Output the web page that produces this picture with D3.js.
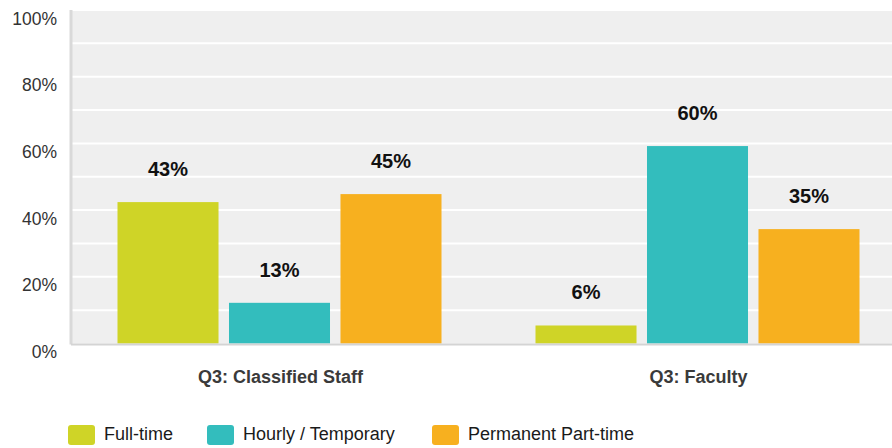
<!DOCTYPE html>
<html>
<head>
<meta charset="utf-8">
<script src="https://cdn.jsdelivr.net/npm/d3@7"></script>
<style>
body { margin: 0; background: #fff; }
svg { font-family: "Liberation Sans", Arial, sans-serif; }
</style>
</head>
<body>
<svg width="892" height="448"></svg>
<script>
const groups = ["Q3: Classified Staff", "Q3: Faculty"]
const series = ["Full-time", "Hourly / Temporary", "Permanent Part-time"]
// bar heights as drawn, and the rounded labels printed above them
const fullTime = [42.4, 5.4]
const hourly = [12.2, 59.2]
const permanent = [44.8, 34.3]
const fullTimeLabels = ["43%", "6%"]
const hourlyLabels = ["13%", "60%"]
const permanentLabels = ["45%", "35%"]
const colors = ["#cfd427", "#33bdbd", "#f7b01f"]
const yTicks = [0, 20, 40, 60, 80, 100]

const svg = d3.select("svg")
const plotLeft = 71, plotRight = 892, plotTop = 10, plotBottom = 343.5

const y = d3.scaleLinear().domain([0, 100]).range([plotBottom, plotTop])
const x0 = d3.scaleBand().domain(groups).range([70.5, 906.5])
const x1 = d3.scaleBand().domain(series).range([-162, 162]).paddingInner(0.094)

// plot background
svg.append("rect").attr("x", plotLeft).attr("y", plotTop)
  .attr("width", plotRight - plotLeft).attr("height", plotBottom - plotTop)
  .attr("fill", "#efefef")

// grid lines every 10%
svg.append("g").selectAll("line").data(d3.range(10, 101, 10)).join("line")
  .attr("x1", plotLeft).attr("x2", plotRight)
  .attr("y1", d => y(d)).attr("y2", d => y(d))
  .attr("stroke", "#fff").attr("stroke-width", 2)

// y axis labels
svg.append("g").selectAll("text").data(yTicks).join("text")
  .attr("x", 57).attr("y", d => y(d) + 14.5)
  .attr("text-anchor", "end")
  .attr("font-size", 17.5).attr("fill", "#333")
  .text(d => d + "%")

const rows = groups.map((g, i) => ({
  group: g,
  values: [fullTime[i], hourly[i], permanent[i]],
  labels: [fullTimeLabels[i], hourlyLabels[i], permanentLabels[i]]
}))

const gg = svg.append("g").selectAll("g").data(rows).join("g")
  .attr("transform", d => "translate(" + (x0(d.group) + x0.bandwidth() / 2) + ",0)")

gg.selectAll("rect").data(d => d.values.map((v, j) => ({ s: series[j], v: v, j: j }))).join("rect")
  .attr("x", d => x1(d.s)).attr("width", x1.bandwidth())
  .attr("y", d => y(d.v)).attr("height", d => plotBottom - y(d.v))
  .attr("fill", d => colors[d.j])

gg.selectAll("text.val").data(d => d.values.map((v, j) => ({ s: series[j], v: v, t: d.labels[j] }))).join("text")
  .attr("class", "val")
  .attr("x", d => x1(d.s) + x1.bandwidth() / 2)
  .attr("y", d => y(d.v) - 26)
  .attr("text-anchor", "middle").attr("font-size", 20).attr("font-weight", "bold").attr("fill", "#111")
  .text(d => d.t)

// axes lines
svg.append("line").attr("x1", plotLeft).attr("x2", plotLeft).attr("y1", plotTop).attr("y2", plotBottom + 1)
  .attr("stroke", "#d9d9d9").attr("stroke-width", 3)
svg.append("line").attr("x1", plotLeft).attr("x2", plotRight).attr("y1", plotBottom + 1).attr("y2", plotBottom + 1)
  .attr("stroke", "#d4d4d4").attr("stroke-width", 2)

// category labels
svg.append("g").selectAll("text").data(groups).join("text")
  .attr("x", d => x0(d) + x0.bandwidth() / 2 + 1).attr("y", 383)
  .attr("text-anchor", "middle").attr("font-size", 18).attr("font-weight", "bold").attr("fill", "#3a3a3a")
  .text(d => d)

// legend
const legX = [68, 207, 432]
const leg = svg.append("g").selectAll("g").data(series).join("g")
  .attr("transform", (d, i) => "translate(" + legX[i] + ",425)")
leg.append("rect").attr("width", 27).attr("height", 20).attr("rx", 3).attr("fill", (d, i) => colors[i])
leg.append("text").attr("x", 36).attr("y", 15).attr("font-size", 18).attr("fill", "#1a1a1a").text(d => d)
</script>
</body>
</html>
